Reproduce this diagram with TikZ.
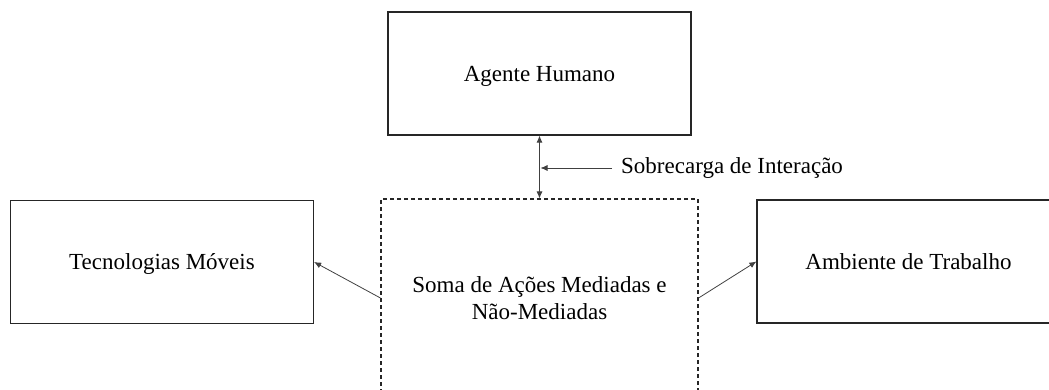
\documentclass[tikz,border=0pt]{standalone}
\usepackage{fontspec}
\setmainfont{Liberation Serif}
\usetikzlibrary{arrows.meta,calc}
\begin{document}
\begin{tikzpicture}[x=1pt,y=-1pt,
  txt/.style={font=\fontsize{23}{26.5}\selectfont,align=center,text depth=0pt},
  box/.style={draw=black!85,line width=1.2pt,minimum width=303pt,minimum height=123pt,
    inner sep=0pt,txt},
  dashbox/.style={draw=black!85,line width=1.1pt,dash pattern=on 4pt off 3pt,
    minimum width=317pt,minimum height=198pt,inner sep=0pt,txt},
  link/.style={draw=black!75,line width=0.8pt,-{Latex[length=7pt,width=6pt]}},
  lbl/.style={font=\fontsize{23}{26.5}\selectfont,inner sep=0pt,anchor=west}]
\useasboundingbox (0,0) rectangle (1049,390);
\clip (0,0) rectangle (1049,390);

\node[box] (agente) at (539.5,73.5) {Agente Humano};
\node[dashbox] (soma) at (539.5,298) {Soma de Ações Mediadas e\\Não-Mediadas};
\node[box] (tec) at (162,262) {Tecnologias Móveis};
\node[box] (amb) at (908.5,261.5) {Ambiente de Trabalho};

% interaction overload between the agent and the sum of actions
\draw[link,{Latex[length=7pt,width=6pt]}-{Latex[length=7pt,width=6pt]}] (agente.south) -- (soma.north);
\node[lbl] (sobre) at (621,168) {Sobrecarga de Interação};
\coordinate (meio) at ($(sobre.west -| agente.south)+(1,0)$);
\draw[link] ($(sobre.west)+(-9,0)$) -- (meio);

% outputs towards the side boxes
\draw[link] (soma.west) -- (tec.east);
\draw[link] (soma.east) -- (amb.west);
\end{tikzpicture}
\end{document}
